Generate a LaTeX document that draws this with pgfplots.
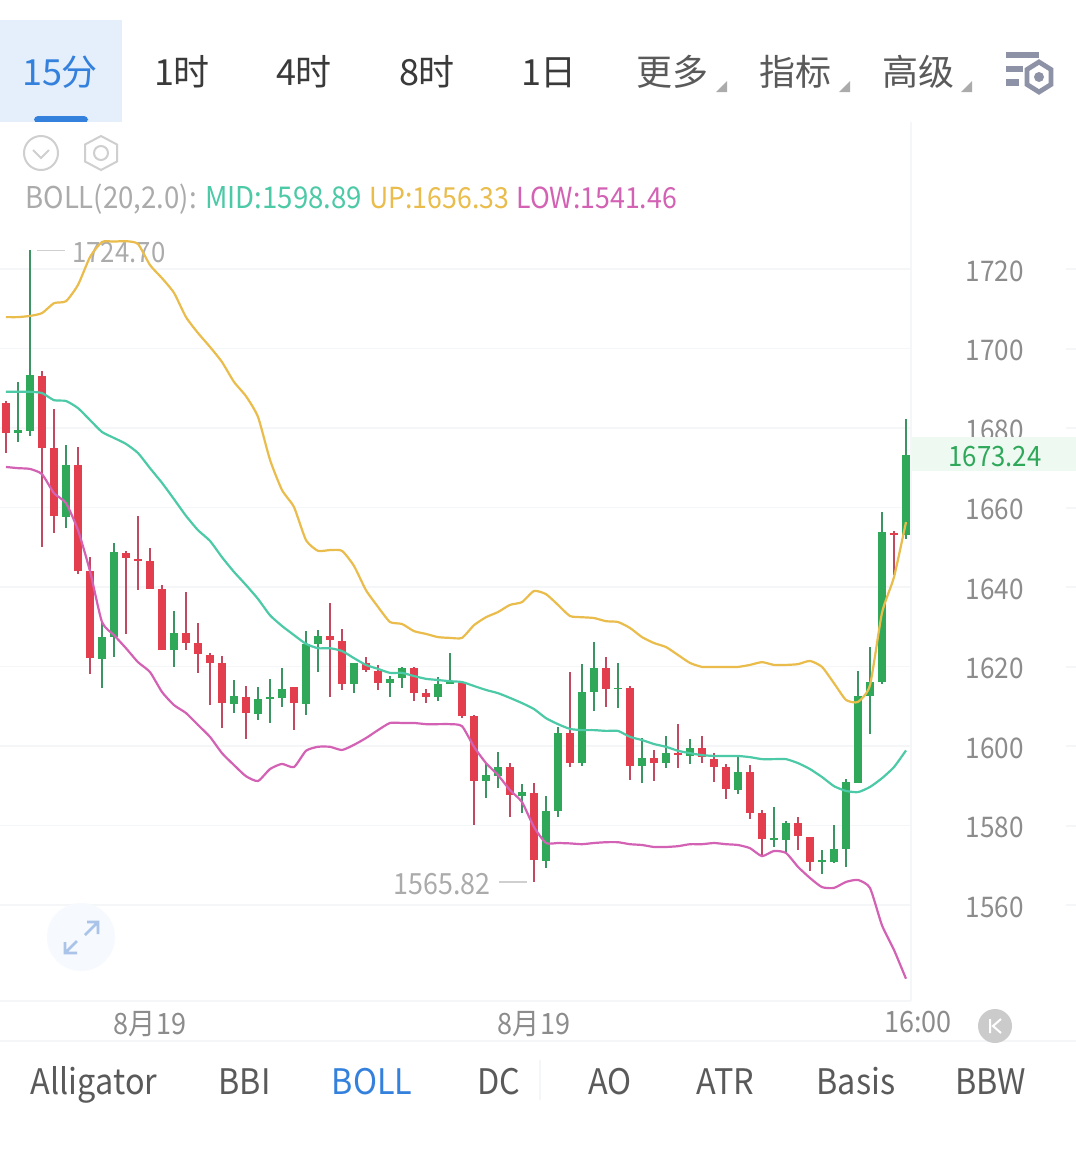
\documentclass[border=0pt]{standalone}
\usepackage{pgfplots}
\usepackage{pgfplotstable}
\usepackage{fontspec}
\pgfplotsset{compat=1.18}
\setmainfont{Noto Sans CJK SC}
\newfontfamily\ui[FakeStretch=0.92]{Noto Sans CJK SC}
\definecolor{cup}{HTML}{2FA85A}
\definecolor{cdown}{HTML}{E33E4E}
\definecolor{cupw}{HTML}{3C9463}
\definecolor{cdownw}{HTML}{C04A62}
\definecolor{byel}{HTML}{E9BC4B}
\definecolor{bteal}{HTML}{4CC9A6}
\definecolor{bpink}{HTML}{D362B4}
\definecolor{gridc}{HTML}{F5F6F7}
\definecolor{tickc}{HTML}{8C8C8C}
\definecolor{annc}{HTML}{ABABAB}
\definecolor{tabblue}{HTML}{3380DD}
\definecolor{tabbg}{HTML}{E4EFFB}
\definecolor{dark}{HTML}{3A3A3A}
\definecolor{midc}{HTML}{5A5A5A}
\definecolor{iconb}{HTML}{8D92A6}
\definecolor{iconl}{HTML}{CFCFCF}
\definecolor{bandc}{HTML}{EEF9F2}
\definecolor{triac}{HTML}{ABABAB}
\definecolor{expbg}{HTML}{F6F9FD}
\definecolor{expfg}{HTML}{A9C4E8}
\definecolor{scrollc}{HTML}{CBCBCB}
\pgfplotstableread{
i h t b l
1 1691.6 1679.4 1678.7 1676.5
2 1724.70 1693.3 1679.2 1678.0
5 1675.7 1670.7 1657.6 1654.8
8 1630.9 1627.4 1621.9 1614.6
9 1651.1 1648.8 1627.4 1622.4
14 1634.0 1628.4 1624.1 1619.9
19 1616.6 1612.6 1610.6 1608.3
21 1614.8 1611.8 1608.0 1606.5
22 1616.9 1612.3 1611.8 1605.8
23 1619.6 1614.3 1612.1 1609.8
25 1628.9 1625.7 1610.6 1607.8
26 1629.2 1627.7 1625.7 1618.6
29 1620.9 1620.9 1615.6 1613.3
32 1617.6 1616.9 1615.8 1612.3
33 1619.9 1619.6 1617.1 1614.6
36 1617.4 1615.6 1612.3 1611.3
37 1623.4 1616.3 1615.6 1615.6
40 1595.7 1592.7 1591.2 1586.9
41 1598.5 1594.7 1592.5 1589.4
43 1590.4 1588.4 1587.4 1583.1
45 1587.4 1583.6 1571.1 1569.3
46 1604.8 1603.3 1583.6 1582.1
48 1620.6 1613.6 1595.7 1595.0
49 1626.2 1619.6 1613.6 1608.8
51 1620.9 1614.6 1614.3 1609.6
53 1602.0 1597.0 1595.0 1590.7
55 1602.5 1598.2 1595.7 1594.5
57 1601.8 1599.5 1597.5 1595.5
61 1597.2 1593.5 1588.9 1587.9
64 1584.7 1576.8 1576.3 1574.6
65 1581.1 1580.6 1576.3 1573.1
68 1573.8 1571.3 1570.8 1567.8
69 1580.1 1574.1 1570.8 1570.6
70 1591.7 1590.9 1574.1 1569.6
71 1618.9 1612.6 1590.7 1590.7
72 1624.9 1616.1 1612.6 1603.0
73 1658.9 1653.8 1616.1 1615.6
75 1682.3 1673.24 1653.1 1652.1
}\upc
\pgfplotstableread{
i h t b l
0 1686.8 1686.3 1678.7 1673.7
3 1694.3 1693.1 1675.0 1650.1
4 1684.8 1675.0 1657.9 1653.6
6 1675.2 1670.7 1644.0 1643.3
7 1647.5 1644.0 1622.1 1618.1
10 1649.1 1648.5 1647.3 1628.2
11 1657.9 1647.0 1646.5 1639.2
12 1649.8 1646.5 1639.5 1639.5
13 1640.5 1639.5 1624.1 1624.1
15 1638.7 1628.4 1625.9 1624.1
16 1630.9 1625.9 1623.1 1618.4
17 1623.4 1622.9 1620.9 1610.3
18 1622.6 1620.9 1610.8 1604.5
20 1615.1 1612.3 1608.3 1601.8
24 1614.8 1614.8 1610.8 1604.0
27 1636.0 1627.7 1626.7 1612.3
28 1629.4 1626.4 1615.6 1614.1
30 1622.4 1620.9 1619.1 1618.6
31 1620.4 1618.9 1615.8 1614.1
34 1619.9 1619.6 1613.3 1611.3
35 1614.3 1613.3 1612.3 1610.8
38 1615.8 1615.8 1607.5 1607.0
39 1607.8 1607.5 1591.2 1580.1
42 1595.7 1594.7 1587.7 1582.1
44 1590.7 1588.2 1571.3 1565.82
47 1618.6 1603.3 1595.7 1594.7
50 1622.4 1619.6 1614.3 1609.8
52 1615.1 1614.6 1595.0 1591.4
54 1599.0 1597.0 1595.7 1591.2
56 1605.5 1598.2 1597.7 1594.5
58 1602.5 1599.5 1597.2 1595.7
59 1598.2 1596.7 1594.7 1590.9
60 1595.5 1594.7 1589.2 1586.7
62 1595.2 1593.5 1583.1 1581.6
63 1583.9 1583.1 1576.6 1572.1
66 1582.1 1580.6 1577.4 1573.8
67 1577.1 1577.1 1570.8 1568.6
74 1654.1 1653.6 1653.1 1643.0
}\downc
\pgfplotstableread{
i up mid low
0 1707.9 1689.1 1670.2
1 1707.9 1689.1 1669.9
2 1708.2 1689.1 1669.7
3 1708.9 1688.8 1668.4
4 1711.4 1687.0 1663.6
5 1711.9 1686.8 1661.1
6 1716.0 1685.0 1654.3
7 1723.0 1682.0 1644.0
8 1726.8 1679.0 1631.2
9 1726.9 1677.5 1627.9
10 1727.0 1676.0 1624.6
11 1726.3 1673.7 1621.1
12 1721.0 1669.9 1618.6
13 1717.7 1666.2 1613.6
14 1714.0 1662.1 1610.3
15 1707.9 1657.9 1608.3
16 1703.9 1654.3 1605.3
17 1700.4 1651.6 1602.3
18 1696.6 1647.5 1598.2
19 1691.6 1643.8 1595.2
20 1688.0 1640.5 1592.4
21 1682.8 1637.0 1591.2
22 1672.0 1632.9 1594.2
23 1664.4 1630.2 1595.5
24 1660.1 1627.9 1594.7
25 1651.8 1625.7 1598.8
26 1649.1 1624.6 1599.8
27 1649.3 1624.6 1599.8
28 1649.1 1623.9 1599.0
29 1645.3 1622.1 1600.3
30 1639.2 1620.4 1602.0
31 1635.0 1619.4 1604.0
32 1631.2 1618.4 1605.8
33 1630.7 1618.4 1605.8
34 1628.9 1617.6 1605.8
35 1628.2 1616.9 1605.5
36 1627.4 1616.6 1605.5
37 1627.2 1616.3 1605.5
38 1627.2 1616.1 1605.0
39 1630.4 1615.1 1599.8
40 1632.4 1614.1 1595.7
41 1633.7 1613.3 1592.7
42 1635.5 1612.1 1588.9
43 1636.2 1610.8 1585.9
44 1639.0 1609.3 1579.6
45 1638.2 1607.0 1575.6
46 1635.5 1605.5 1575.6
47 1632.7 1604.3 1575.5
48 1632.4 1604.0 1575.3
49 1632.2 1604.0 1575.6
50 1631.4 1603.8 1575.8
51 1631.2 1603.8 1575.8
52 1629.7 1602.3 1575.3
53 1627.4 1601.5 1575.1
54 1625.9 1600.5 1574.6
55 1624.9 1599.8 1574.6
56 1622.9 1598.8 1574.8
57 1620.9 1598.2 1575.3
58 1619.9 1597.7 1575.3
59 1619.9 1597.5 1575.6
60 1619.9 1597.5 1575.3
61 1619.9 1597.5 1575.1
62 1620.4 1597.2 1574.3
63 1621.1 1596.7 1572.3
64 1620.4 1596.7 1573.6
65 1620.4 1596.7 1573.1
66 1620.6 1595.7 1569.6
67 1621.4 1594.2 1566.8
68 1619.9 1592.2 1564.5
69 1615.8 1589.9 1564.3
70 1611.6 1588.7 1565.8
71 1611.1 1588.4 1566.3
72 1615.3 1589.7 1564.3
73 1633.5 1591.9 1554.9
74 1642.5 1594.7 1548.7
75 1656.33 1598.89 1541.46
}\bands
\begin{document}
\begin{tikzpicture}[x=0.5pt,y=-0.5pt]
\useasboundingbox (0,0) rectangle (1076,1152);
\fill[white] (0,0) rectangle (1076,1152);
\coordinate (AX) at (0,1001);
\begin{axis}[
  at={(AX)}, anchor=south west,
  scale only axis, width=455.5pt, height=439.5pt,
  xmin=-0.5, xmax=75.417, ymin=1535.85, ymax=1756.98,
  axis y line*=right, axis x line*=bottom,
  axis line style={draw=gridc,-,line width=0.8pt},
  ytick={1560,1580,...,1720},
  ymajorgrids, grid style={gridc,line width=0.8pt},
  y tick style={gridc,line width=0.8pt},
  x tick style={draw=none},
  major tick length=6pt,
  xtick={12,44,75},
  xticklabels={8月19,8月19,\hspace*{12pt}16:00},
  xticklabel style={font=\fontsize{14.7pt}{15pt}\selectfont\ui,text=tickc,yshift=-1.5pt},
  yticklabel style={font=\fontsize{14.2pt}{15pt}\selectfont\ui,text=tickc,anchor=center,xshift=42pt,yshift=-1pt},
  /pgf/number format/assume math mode=true,
  /pgf/number format/1000 sep={},
  clip mode=individual,
]
% extreme annotations
\draw[iconl,line width=0.7pt] (axis cs:2.58,1724.7) -- (axis cs:4.92,1724.7);
\node[anchor=west,inner sep=0,text=annc,font=\fontsize{14pt}{15pt}\selectfont\ui] at (axis cs:5.5,1724.2) {1724.70};
\draw[iconl,line width=0.7pt] (axis cs:41.08,1565.82) -- (axis cs:43.4,1565.82);
\node[anchor=east,inner sep=0,text=annc,font=\fontsize{14.6pt}{15pt}\selectfont\ui] at (axis cs:40.42,1565.3) {1565.82};
% wicks
\addplot[draw=none,mark=none,forget plot,error bars/.cd,y dir=both,y explicit,error mark=none,
  error bar style={cupw,line width=1.1pt}]
  table[x=i,y=t,y error plus expr=\thisrow{h}-\thisrow{t},y error minus expr=\thisrow{t}-\thisrow{l}] {\upc};
\addplot[draw=none,mark=none,forget plot,error bars/.cd,y dir=both,y explicit,error mark=none,
  error bar style={cdownw,line width=1.1pt}]
  table[x=i,y=t,y error plus expr=\thisrow{h}-\thisrow{t},y error minus expr=\thisrow{t}-\thisrow{l}] {\downc};
% bodies
\addplot[draw=none,mark=none,forget plot,error bars/.cd,y dir=minus,y explicit,error mark=none,
  error bar style={cup,line width=4pt}]
  table[x=i,y=t,y error minus expr=\thisrow{t}-\thisrow{b}] {\upc};
\addplot[draw=none,mark=none,forget plot,error bars/.cd,y dir=minus,y explicit,error mark=none,
  error bar style={cdown,line width=4pt}]
  table[x=i,y=t,y error minus expr=\thisrow{t}-\thisrow{b}] {\downc};
% Bollinger bands
\addplot[byel,line width=1.1pt,no marks,smooth,tension=0.35] table[x=i,y=up] {\bands};
\addplot[bteal,line width=1.1pt,no marks,smooth,tension=0.35] table[x=i,y=mid] {\bands};
\addplot[bpink,line width=1.1pt,no marks,smooth,tension=0.35] table[x=i,y=low] {\bands};
\end{axis}
% right side grid stubs
\foreach \yy in {269,349,428,508,587,667,746,826,905}
  \draw[gridc,line width=0.8pt] (1066,\yy) -- (1076,\yy);
% last price band
\fill[bandc] (912,437) rectangle (1076,471);
\node[text=cup,font=\fontsize{14pt}{15pt}\selectfont\ui,inner sep=0] at (995,457) {1673.24};
% bottom rules
\draw[gridc,line width=0.8pt] (0,1041) -- (1076,1041);
\draw[gridc,line width=0.8pt] (540,1060) -- (540,1100);
% top tabs
\fill[tabbg] (0,20) rectangle (122,122);
\fill[tabblue,rounded corners=2pt] (34,123) -- (34,116) -- (88,116) -- (88,123) -- cycle;
\fill[white] (0,122) rectangle (122,124);
\tikzset{tab/.style={font=\fontsize{18pt}{19pt}\selectfont,inner sep=0,anchor=base},
         btab/.style={font=\fontsize{17.6pt}{19pt}\selectfont\ui,inner sep=0,anchor=base,text=midc}}
\node[tab,text=tabblue] at (60,85) {15分};
\node[tab,text=dark] at (182,85) {1时};
\node[tab,text=dark] at (304,85) {4时};
\node[tab,text=dark] at (427,85) {8时};
\node[tab,text=dark] at (549,85) {1日};
\node[tab,text=midc] at (672,85) {更多};
\node[tab,text=midc] at (795,85) {指标};
\node[tab,text=midc] at (918,85) {高级};
\foreach \xx in {727,850,972}
  \fill[triac] (\xx,81) -- (\xx,92) -- (\xx-11,92) -- cycle;
% settings icon
\fill[iconb] (1006,52) rectangle (1039,58);
\fill[iconb] (1006,66) rectangle (1023,72);
\fill[iconb] (1006,79) rectangle (1019,86);
\draw[iconb,line width=2.4pt,fill=white] (1039,62) -- (1051,69.5) -- (1051,84.5) -- (1039,92) -- (1027,84.5) -- (1027,69.5) -- cycle;
\fill[iconb] (1039,77) circle (5);
% small icons
\draw[iconl,line width=1pt] (41,153) circle (17);
\draw[iconl,line width=1pt] (33,150) -- (41,158) -- (49,150);
\draw[iconl,line width=1pt] (101,136) -- (117,144.5) -- (117,161.5) -- (101,170) -- (85,161.5) -- (85,144.5) -- cycle;
\draw[iconl,line width=1pt] (101,153) circle (7);
% legend of the indicator
\tikzset{leg/.style={font=\fontsize{15pt}{16pt}\selectfont\ui,inner sep=0,anchor=base west},
         legs/.style={font=\fontsize{14.5pt}{16pt}\selectfont\ui,inner sep=0,anchor=base west}}
\node[leg,text=annc] at (25,208) {BOLL(20,2.0):};
\node[leg,text=bteal] at (205,208) {MID:1598.89};
\node[legs,text=byel] at (369,208) {UP:1656.33};
\node[legs,text=bpink] at (516,208) {LOW:1541.46};
% expand button
\fill[expbg] (81,937) circle (34);
\draw[expfg,line width=1.3pt] (87,922) -- (98,922) -- (98,934) (98,922) -- (85,935);
\draw[expfg,line width=1.3pt] (65,942) -- (65,953) -- (77,953) (65,953) -- (77,941);
% scroll button
\fill[scrollc] (995,1026) circle (17);
\draw[white,line width=1pt] (990,1019) -- (990,1033) (1001,1019) -- (993,1026) -- (1001,1033);
% indicator tabs
\node[btab,text=midc] at (94,1094) {Alligator};
\node[btab,text=midc] at (244.5,1094) {BBI};
\node[btab,text=tabblue] at (372,1094) {BOLL};
\node[btab,text=midc] at (498.5,1094) {DC};
\node[btab,text=midc] at (610,1094) {AO};
\node[btab,text=midc] at (725.5,1094) {ATR};
\node[btab,text=midc] at (856,1094) {Basis};
\node[btab,text=midc] at (990.5,1094) {BBW};
\end{tikzpicture}
\end{document}
